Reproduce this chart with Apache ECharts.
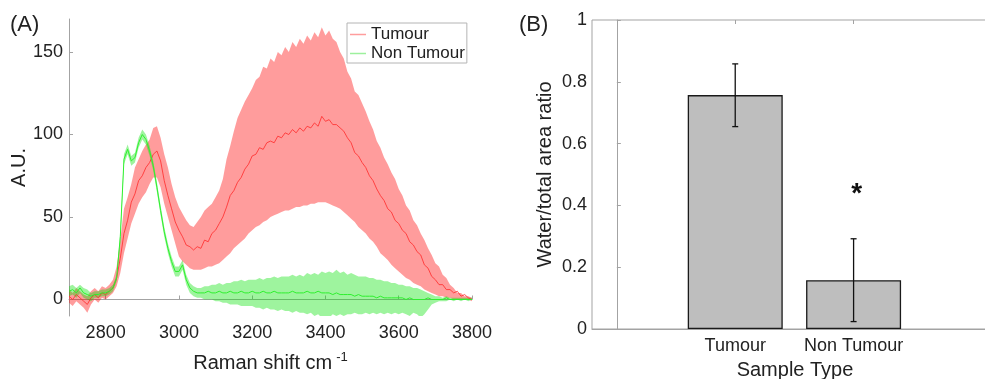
<!DOCTYPE html>
<html><head><meta charset="utf-8">
<script src="https://cdn.jsdelivr.net/npm/echarts@6/dist/echarts.min.js"></script>
<style>html,body{margin:0;padding:0;background:#fff}#c{width:985px;height:379px}</style>
</head><body><div id="c"></div>
<script>
// ---------- Panel A data (Raman spectra) ----------
const wavenumbers = [
2700,2710,2720,2730,2740,2750,2760,2770,2780,2790,
2800,2810,2820,2830,2840,2850,2860,2870,2880,2890,
2900,2910,2920,2930,2940,2950,2960,2970,2980,2990,
3000,3010,3020,3030,3040,3050,3060,3070,3080,3090,
3100,3110,3120,3130,3140,3150,3160,3170,3180,3190,
3200,3210,3220,3230,3240,3250,3260,3270,3280,3290,
3300,3310,3320,3330,3340,3350,3360,3370,3380,3390,
3400,3410,3420,3430,3440,3450,3460,3470,3480,3490,
3500,3510,3520,3530,3540,3550,3560,3570,3580,3590,
3600,3610,3620,3630,3640,3650,3660,3670,3680,3690,
3700,3710,3720,3730,3740,3750,3760,3770,3780,3790,
3800];
const tumourMean = [
2,0,3,1,-1,-3,1,3,1,4,
3,5,7,13,25,40,48,59,64,72,
75,80,83,88,90,84,72,63,55,47,
42,38,33,32,30,32,31,36,35,40,
42,46,50,56,63,66,71,74,79,82,
87,88,92,91,95,96,95,99,98,101,
100,103,101,104,102,105,104,107,105,111,
108,109,106,106,104,102,98,95,89,87,
83,80,75,72,67,63,60,55,53,48,
46,42,40,35,33,29,27,21,19,14,
12,9,9,6,6,4,5,2,3,1,
0];
const tumourUpper = [
6,4,7,5,3,2,5,7,5,8,
7,9,12,20,36,55,62,70,80,85,
90,94,97,104,105,98,88,80,70,62,
56,52,48,45,44,47,50,54,56,58,
62,66,73,85,93,102,110,115,120,124,
128,133,135,141,140,146,144,150,148,153,
150,156,153,158,155,160,157,162,159,165,
160,163,158,156,150,146,138,134,126,124,
119,114,108,103,96,92,86,82,77,73,
67,63,57,54,48,45,40,36,31,27,
22,20,15,13,9,7,4,4,2,2,
1];
const tumourLower = [
-2,-4,-1,-3,-5,-8,-3,0,-2,1,
0,2,4,8,16,28,37,46,52,58,
62,65,70,74,74,68,58,50,42,34,
26,23,21,19,18,18,18,19,20,20,
21,22,24,26,28,31,33,35,37,40,
42,44,45,47,48,50,51,52,53,54,
54,55,56,56,57,57,58,58,59,59,
59,58,57,56,55,53,51,49,47,44,
42,40,37,35,32,28,26,24,21,19,
17,15,13,12,10,9,8,6,5,4,
3,2,2,1,1,0,0,0,0,0,
-1];
const nonTumourMean = [
5,6,4,7,4,3,2,3,3,4,
4,5,7,13,38,85,91,84,86,95,
100,97,90,81,68,54,41,31,23,17,
17,21,12,7,5,4,4,4,5,4,
4,5,4,4,5,4,4,5,4,4,
5,4,4,5,4,4,5,4,4,4,
4,5,4,4,4,5,4,4,5,4,
4,4,3,4,3,3,3,3,2,3,
2,2,2,2,1,2,1,1,1,1,
1,1,0,1,0,0,0,0,1,0,
0,0,0,1,0,0,0,0,0,0,
0];
const nonTumourUpper = [
8,9,7,9,7,6,4,5,5,6,
6,7,9,15,41,88,94,87,89,98,
103,100,93,84,71,57,44,34,26,20,
20,24,15,10,8,7,7,8,8,9,
9,10,9,10,10,11,11,12,11,12,
12,12,13,12,13,13,14,13,14,14,
14,15,14,15,14,16,15,16,15,17,
16,17,16,18,16,17,15,16,15,14,
14,14,13,13,12,12,11,11,10,10,
9,9,8,8,7,7,6,5,4,3,
2,2,1,2,1,1,1,1,1,1,
1];
const nonTumourLower = [
2,3,1,4,1,0,-1,1,1,2,
2,3,5,11,35,82,88,81,83,92,
97,94,87,78,65,51,38,28,20,14,
14,18,9,4,2,1,1,0,0,0,
-1,-1,-2,-2,-3,-3,-3,-4,-4,-4,
-4,-5,-5,-6,-5,-6,-6,-7,-6,-7,
-7,-8,-7,-8,-8,-9,-8,-10,-9,-11,
-10,-11,-9,-10,-9,-10,-9,-9,-8,-9,
-9,-8,-9,-8,-9,-8,-9,-8,-9,-8,
-9,-8,-9,-10,-8,-9,-11,-9,-6,-3,
-2,-1,-1,-1,0,-1,0,-1,0,-1,
0];
const specXTicks = [2800,3000,3200,3400,3600,3800];
const specYTicks = [0,50,100,150];

// ---------- Panel B data (bar chart) ----------
const sampleTypes = ['Tumour','Non Tumour'];
const ratioValues = [0.757, 0.158];
const ratioErrLow = [0.655, 0.024];
const ratioErrHigh = [0.858, 0.292];
const sigMarkers = [{category:'Non Tumour', value:0.455, text:'*'}];
const ratioYTicks = [0,0.2,0.4,0.6,0.8,1];

const FONT = 'Liberation Sans';
const TXT = '#222';
const AX = '#a3a3a3';

const pairs = (ys) => wavenumbers.map((x,i)=>[x, ys[i]]);
const catPos = sampleTypes.map((c,i)=>i+1);

// shaded band (upper/lower) drawn as one polygon through the axis scales
function bandSeries(upper, lower, color){
  return {
    type:'custom', xAxisIndex:0, yAxisIndex:0, silent:true,
    data:wavenumbers.map((x,i)=>[x, lower[i], upper[i]]),
    encode:{x:0, y:[1,2]},
    renderItem:(params, api)=>{
      if (params.dataIndex !== 0) return null;
      const pts = [];
      for (let i=0;i<wavenumbers.length;i++) pts.push(api.coord([wavenumbers[i], upper[i]]));
      for (let i=wavenumbers.length-1;i>=0;i--) pts.push(api.coord([wavenumbers[i], lower[i]]));
      const cs = params.coordSys;
      return {type:'group',
        clipPath:{type:'rect', shape:{x:cs.x, y:cs.y, width:cs.width, height:cs.height}},
        children:[{type:'polygon', shape:{points:pts}, style:{fill:color, stroke:null}}]};
    }
  };
}

const chart = echarts.init(document.getElementById('c'), null, {renderer:'canvas'});
const option = {
  animation:false,
  textStyle:{fontFamily:FONT},
  graphic:[
    {type:'text', left:10, top:14, style:{text:'(A)', font:'22px "Liberation Sans"', fill:TXT}},
    {type:'text', left:519, top:14, style:{text:'(B)', font:'22px "Liberation Sans"', fill:TXT}}
  ],
  legend:{
    orient:'vertical', left:347, top:23, padding:[2,2,0,3], itemGap:0,
    itemWidth:16, itemHeight:1.5, icon:'rect', z:20,
    borderColor:'#b4b4b4', borderWidth:1, backgroundColor:'#fff',
    textStyle:{fontSize:17, color:TXT, fontFamily:FONT, lineHeight:19},
    selectedMode:false,
    data:[{name:'Tumour', itemStyle:{color:'#ff9d9d'}},{name:'Non Tumour', itemStyle:{color:'#9df09d'}}]
  },
  grid:[
    {left:69, top:19, width:403, height:297, outerBoundsMode:'none', containLabel:false},
    {left:592, top:20, width:406, height:309, outerBoundsMode:'none', containLabel:false,
     show:true, borderColor:AX, borderWidth:1, backgroundColor:'transparent'}
  ],
  xAxis:[
    {type:'value', gridIndex:0, min:2700, max:3800,
     name:'{m|Raman shift cm}{s|-1}', nameLocation:'middle', nameGap:35, nameMoveOverlap:false,
     nameTextStyle:{rich:{m:{fontSize:20, color:TXT, fontFamily:FONT, lineHeight:24}, s:{fontSize:13, color:TXT, fontFamily:FONT, verticalAlign:'top', padding:[0,0,0,4], lineHeight:14}}},
     axisLine:{lineStyle:{color:AX, width:1}},
     axisTick:{inside:true, length:4, customValues:specXTicks, lineStyle:{color:AX}},
     axisLabel:{customValues:specXTicks, fontSize:18, color:TXT, margin:8, formatter:(v)=>String(v)},
     splitLine:{show:false}},
    {type:'value', gridIndex:1, min:-0.21, max:3.22,
     name:'Sample Type', nameLocation:'middle', nameGap:31, nameMoveOverlap:false,
     nameTextStyle:{fontSize:20, color:TXT},
     axisLine:{lineStyle:{color:AX, width:1}},
     axisTick:{inside:true, length:4, customValues:catPos, lineStyle:{color:AX}},
     axisLabel:{customValues:catPos, fontSize:18, color:TXT, margin:8,
       formatter:(v)=>sampleTypes[Math.round(v)-1] || ''},
     splitLine:{show:false}},
    {type:'value', gridIndex:1, min:-0.21, max:3.22, position:'top',
     axisLine:{show:false},
     axisTick:{inside:true, length:4, customValues:catPos, lineStyle:{color:AX}},
     axisLabel:{show:false}, splitLine:{show:false}}
  ],
  yAxis:[
    {type:'value', gridIndex:0, min:-10, max:170,
     name:'A.U.', nameLocation:'middle', nameGap:40, nameMoveOverlap:false,
     nameTextStyle:{fontSize:20, color:TXT},
     axisLine:{show:true, lineStyle:{color:AX, width:1}},
     axisTick:{show:true, inside:true, length:4, customValues:specYTicks, lineStyle:{color:AX}},
     axisLabel:{customValues:specYTicks, fontSize:18, color:TXT, margin:6},
     splitLine:{show:false}},
    {type:'value', gridIndex:1, min:0, max:1, interval:0.2,
     name:'Water/total area ratio', nameLocation:'middle', nameGap:37, nameMoveOverlap:false,
     nameTextStyle:{fontSize:20, color:TXT},
     axisLine:{show:true, lineStyle:{color:AX, width:1}},
     axisTick:{show:true, inside:true, length:4, lineStyle:{color:AX}},
     axisLabel:{fontSize:18, color:TXT, margin:5, formatter:(v)=>String(+v.toFixed(1))},
     splitLine:{show:false}}
  ],
  series:[
    bandSeries(tumourUpper, tumourLower, 'rgba(255,0,0,0.39)'),
    bandSeries(nonTumourUpper, nonTumourLower, 'rgba(0,225,0,0.38)'),
    {name:'Tumour', type:'line', xAxisIndex:0, yAxisIndex:0, data:pairs(tumourMean), z:3,
     symbol:'none', lineStyle:{color:'#ff2a2a', width:0.8}, itemStyle:{color:'#ff9d9d'}, clip:true},
    {name:'Non Tumour', type:'line', xAxisIndex:0, yAxisIndex:0, data:pairs(nonTumourMean), z:3,
     symbol:'none', lineStyle:{color:'#2ef02e', width:1}, itemStyle:{color:'#9df09d'}, clip:true},

    {type:'bar', xAxisIndex:1, yAxisIndex:1, barWidth:95, z:2,
     data:sampleTypes.map((c,i)=>[i+1, ratioValues[i]]),
     itemStyle:{color:'#bebebe', borderColor:'#1a1a1a', borderWidth:1.3}},
    {type:'custom', xAxisIndex:1, yAxisIndex:1, z:6,
     data:sampleTypes.map((c,i)=>[i+1, ratioErrLow[i], ratioErrHigh[i]]),
     encode:{x:0, y:[1,2]},
     renderItem:(params, api)=>{
       const x = api.value(0);
       const pLo = api.coord([x, api.value(1)]);
       const pHi = api.coord([x, api.value(2)]);
       const cap = 3;
       const st = {stroke:'#111', lineWidth:1.3};
       return {type:'group', children:[
         {type:'line', shape:{x1:pLo[0], y1:pLo[1], x2:pHi[0], y2:pHi[1]}, style:st},
         {type:'line', shape:{x1:pLo[0]-cap, y1:pLo[1], x2:pLo[0]+cap, y2:pLo[1]}, style:st},
         {type:'line', shape:{x1:pHi[0]-cap, y1:pHi[1], x2:pHi[0]+cap, y2:pHi[1]}, style:st}
       ]};
     }},
    {type:'custom', xAxisIndex:1, yAxisIndex:1, z:6,
     data:sigMarkers.map(m=>[sampleTypes.indexOf(m.category)+1, m.value]),
     renderItem:(params, api)=>{
       const p = api.coord([api.value(0), api.value(1)]);
       return {type:'text', x:p[0]+3, y:p[1]+6,
         style:{text:sigMarkers[params.dataIndex].text, font:'bold 28px "Liberation Sans"', fill:'#111', align:'center', verticalAlign:'middle'}};
     }}
  ]
};
chart.setOption(option);
</script>
</body></html>
